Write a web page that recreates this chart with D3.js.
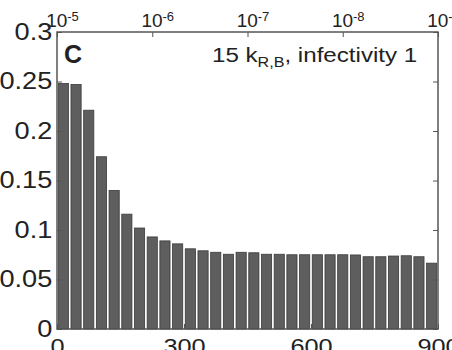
<!DOCTYPE html>
<html>
<head>
<meta charset="utf-8">
<script src="https://cdn.jsdelivr.net/npm/d3@7/dist/d3.min.js"></script>
<style>
  html, body { margin: 0; padding: 0; background: #fff; }
  svg { display: block; }
  text { font-family: "Liberation Sans", Arial, Helvetica, sans-serif; fill: #222; }
</style>
</head>
<body>
<svg id="chart" width="452" height="350"></svg>
<script>
// ---- data ----
const binCenters = [15, 45, 75, 105, 135, 165, 195, 225, 255, 285,
                    315, 345, 375, 405, 435, 465, 495, 525, 555, 585,
                    615, 645, 675, 705, 735, 765, 795, 825, 855, 885];
const values = [0.248, 0.247, 0.221, 0.174, 0.140, 0.116, 0.102, 0.093, 0.089, 0.086,
                0.081, 0.079, 0.0775, 0.0755, 0.0775, 0.077, 0.0755, 0.0755, 0.075, 0.075,
                0.075, 0.075, 0.075, 0.0748, 0.073, 0.073, 0.0737, 0.074, 0.073, 0.0665];
const binWidth = 30;
const xTicks = [0, 300, 600, 900];
const yTicks = [0, 0.05, 0.1, 0.15, 0.2, 0.25, 0.3];
const yTickLabels = ["0", "0.05", "0.1", "0.15", "0.2", "0.25", "0.3"];
const topTicks = [1e-5, 1e-6, 1e-7, 1e-8, 1e-9];
const topTickExps = ["-5", "-6", "-7", "-8", "-9"];
const panelLetter = "C";
const titleMain = "15 k";
const titleSub = "R,B";
const titleRest = ", infectivity 1";

// ---- layout ----
const L = 57, R = 438, T = 32, B = 329;
const stretch = 1.15;
const svg = d3.select("#chart");
const x = d3.scaleLinear().domain([0, 900]).range([L, R]);
const y = d3.scaleLinear().domain([0, 0.3]).range([B, T]);
const xTop = d3.scaleLog().domain([1e-5, 1e-9]).range([L, R]);

// bars
const bw = (x(binWidth) - x(0)) * 0.8;
svg.append("g").selectAll("rect").data(values).join("rect")
  .attr("x", (d, i) => x(binCenters[i]) - bw / 2)
  .attr("y", d => y(d))
  .attr("width", bw)
  .attr("height", d => y(0) - y(d))
  .attr("fill", "#5e5e5e")
  .attr("stroke", "#3a3a3a")
  .attr("stroke-width", 0.8);

const axisColor = "#555";
const fontSize = 22;

// bottom axis
const gB = svg.append("g").attr("transform", `translate(0,${B})`)
  .call(d3.axisBottom(x).tickValues(xTicks).tickSizeInner(-5).tickSizeOuter(0).tickPadding(9).tickFormat(d3.format("d")));
// top axis
const gT = svg.append("g").attr("transform", `translate(0,${T})`)
  .call(d3.axisTop(xTop).tickValues(topTicks).tickSizeInner(-5).tickSizeOuter(0).tickPadding(5).tickFormat(() => ""));
// left axis
const gL = svg.append("g").attr("transform", `translate(${L},0)`)
  .call(d3.axisLeft(y).tickValues(yTicks).tickSizeInner(-5).tickSizeOuter(0).tickPadding(4).tickFormat((d, i) => yTickLabels[i]));
// right axis
const gR = svg.append("g").attr("transform", `translate(${R},0)`)
  .call(d3.axisRight(y).tickValues(yTicks).tickSizeInner(-5).tickSizeOuter(0).tickFormat(""));

[gB, gT, gL, gR].forEach(g => {
  g.attr("font-size", null);
  g.select(".domain").remove();
  g.selectAll(".tick line").attr("stroke", axisColor).attr("stroke-width", 1);
  g.selectAll(".tick text").attr("font-size", fontSize).attr("fill", "#222");
});
gB.selectAll(".tick text").attr("transform", `scale(${stretch},1)`);
gL.selectAll(".tick text").attr("font-size", 23).attr("transform", "scale(1.18,1)");

gT.selectAll(".tick text").attr("font-size", 19).attr("dx", 5).each(function(d, i) {
  const t = d3.select(this);
  t.append("tspan").text("10");
  t.append("tspan").attr("dy", "-0.5em").attr("font-size", 13).text(topTickExps[i]);
});

// box
svg.append("rect").attr("x", L).attr("y", T).attr("width", R - L).attr("height", B - T)
  .attr("fill", "none").attr("stroke", axisColor).attr("stroke-width", 1.5);

// panel letter
svg.append("text").attr("x", 64).attr("y", 63).attr("font-size", 25).attr("font-weight", "bold")
  .attr("fill", "#111").text(panelLetter);

// title
const tt = svg.append("text").attr("transform", `translate(212,62) scale(${stretch},1)`)
  .attr("font-size", 21).attr("fill", "#222");
tt.append("tspan").text(titleMain);
tt.append("tspan").attr("dy", 5).attr("font-size", 14).text(titleSub);
tt.append("tspan").attr("dy", -5).text(titleRest);
</script>
</body>
</html>
